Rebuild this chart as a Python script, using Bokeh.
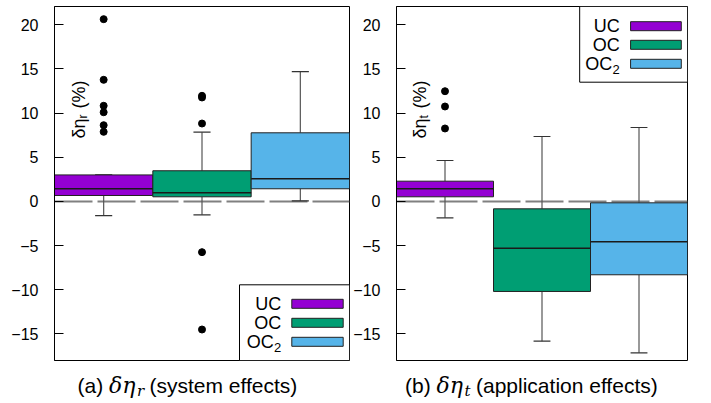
import numpy as np
from bokeh.plotting import figure
from bokeh.layouts import row, column
from bokeh.models import Span, Label, BoxAnnotation, Range1d, FixedTicker, ColumnDataSource
from bokeh.embed import file_html
from bokeh.resources import INLINE

# ---------------- data ----------------
groups = ["UC", "OC", "OC2"]
colors = ["#9400D3", "#009E73", "#56B4E9"]
pos = [1, 2, 3]
yticks = [-15, -10, -5, 0, 5, 10, 15, 20]

# (a) system effects
a_q1 = [0.67, 0.52, 1.43]
a_med = [1.43, 0.97, 2.56]
a_q3 = [3.0, 3.47, 7.77]
a_lo = [-1.6, -1.52, 0.05]
a_hi = [3.0, 7.84, 14.71]
a_out_x = [1, 1, 1, 1, 1, 1, 2, 2, 2, 2, 2]
a_out_y = [20.64, 13.77, 10.83, 10.1, 8.63, 7.88, 11.96, 11.77, 8.82, -5.75, -14.51]

# (b) application effects
b_q1 = [0.52, -10.2, -8.31]
b_med = [1.43, -5.3, -4.58]
b_q3 = [2.29, -0.84, -0.16]
b_lo = [-1.86, -15.83, -17.15]
b_hi = [4.63, 7.35, 8.37]
b_out_x = [1, 1, 1]
b_out_y = [12.48, 10.75, 8.26]

# ---------------- geometry ----------------
FRAME_W = 295.0
PXU_X = FRAME_W / 3.0
Y0_PAGE = 200.9
FRAME_TOP_PAGE = 6.0
FRAME_BOT_PAGE = 360.0
PXU_Y = 8.829
Y_END = (Y0_PAGE - FRAME_TOP_PAGE) / PXU_Y
Y_START = (Y0_PAGE - FRAME_BOT_PAGE) / PXU_Y
TOTAL_H = 400
PLOT_H = int(FRAME_BOT_PAGE) + 2
CAP_H = TOTAL_H - PLOT_H

FONT = "Liberation Sans"
SERIF = "DejaVu Serif"


def make_panel(q1, med, q3, lo, hi, out_x, out_y, border_left, border_right,
               frame_left_page, legend, sub_letter):
    width = int(border_left + FRAME_W + border_right)
    p = figure(width=width, height=PLOT_H, output_backend="svg", toolbar_location=None,
               title=None, x_range=Range1d(0.5, 3.5), y_range=Range1d(Y_START, Y_END),
               min_border_left=border_left, min_border_right=border_right,
               min_border_top=int(FRAME_TOP_PAGE), min_border_bottom=2)
    p.xaxis.visible = False
    p.xgrid.visible = False
    p.ygrid.visible = False
    p.outline_line_color = "black"
    p.outline_line_width = 1
    p.outline_line_alpha = 1
    p.background_fill_color = "white"
    p.border_fill_color = "white"
    ax = p.yaxis[0]
    ax.ticker = FixedTicker(ticks=yticks)
    ax.major_tick_in = 9
    ax.major_tick_out = 0
    ax.minor_tick_line_color = None
    ax.major_tick_line_color = "black"
    ax.axis_line_color = "black"
    ax.major_label_text_font = FONT
    ax.major_label_text_font_size = "16px"
    ax.major_label_text_color = "black"
    ax.major_label_standoff = 16

    def dx(px):
        return (px - frame_left_page) / PXU_X + 0.5

    def dy(py):
        return (Y0_PAGE - py) / PXU_Y

    # zero line
    p.add_layout(Span(location=0, dimension="width", line_color="#808080",
                      line_width=2, line_dash="38 5", level="underlay"))

    src = ColumnDataSource(dict(x=pos, q1=q1, q3=q3, med=med, lo=lo, hi=hi, c=colors,
                                xl=[v - 0.5 for v in pos], xr=[v + 0.5 for v in pos],
                                cl=[v - 0.087 for v in pos], cr=[v + 0.087 for v in pos]))
    # whiskers
    p.segment(x0="x", x1="x", y0="q3", y1="hi", source=src, line_color="#555555", line_width=1.2)
    p.segment(x0="x", x1="x", y0="lo", y1="q1", source=src, line_color="#555555", line_width=1.2)
    p.segment(x0="cl", x1="cr", y0="hi", y1="hi", source=src, line_color="#333333", line_width=1.2)
    p.segment(x0="cl", x1="cr", y0="lo", y1="lo", source=src, line_color="#333333", line_width=1.2)
    # boxes
    p.vbar(x="x", width=1.0, bottom="q1", top="q3", source=src, fill_color="c",
           line_color="#222222", line_width=1)
    p.segment(x0="xl", x1="xr", y0="med", y1="med", source=src, line_color="#1a1a1a", line_width=1.5)
    # outliers
    p.scatter(x=out_x, y=out_y, size=7, color="black")

    # legend
    (bl, bt, bb, text_r, sw_l, sw_r, rows) = legend
    p.add_layout(BoxAnnotation(left=dx(bl), right=3.5, top=dy(bt), bottom=dy(bb),
                               fill_color="white", fill_alpha=1, line_color="black",
                               line_width=1, line_alpha=1))
    for g, c, ry in zip(groups, colors, rows):
        p.add_layout(BoxAnnotation(left=dx(sw_l), right=dx(sw_r), top=dy(ry - 4.5),
                                   bottom=dy(ry + 4.5), fill_color=c, fill_alpha=1,
                                   line_color="#222222", line_width=1, line_alpha=1))
        if g == "OC2":
            p.add_layout(Label(x=dx(text_r), y=dy(ry), text="OC", x_offset=-7.5,
                               text_align="right", text_baseline="middle",
                               text_font=FONT, text_font_size="18px", text_color="black"))
            p.add_layout(Label(x=dx(text_r), y=dy(ry), text="2", y_offset=-6,
                               text_align="right", text_baseline="middle",
                               text_font=FONT, text_font_size="13px", text_color="black"))
        else:
            p.add_layout(Label(x=dx(text_r), y=dy(ry), text=g,
                               text_align="right", text_baseline="middle",
                               text_font=FONT, text_font_size="18px", text_color="black"))

    # rotated y label inside plot
    yl_x = dx(frame_left_page + 24)
    yl_y = dy(138)
    p.add_layout(Label(x=yl_x, y=yl_y, text="δη", angle=np.pi / 2, text_align="left",
                       text_baseline="middle", text_font=FONT, text_font_size="18px",
                       text_color="black"))
    p.add_layout(Label(x=yl_x, y=yl_y, text=sub_letter, angle=np.pi / 2, text_align="left",
                       y_offset=20, x_offset=4, text_baseline="middle", text_font=FONT,
                       text_font_size="12px", text_color="black"))
    p.add_layout(Label(x=yl_x, y=yl_y, text="(%)", angle=np.pi / 2, text_align="left",
                       y_offset=30, text_baseline="middle", text_font=FONT,
                       text_font_size="18px", text_color="black"))
    return p


def make_caption(width, start_x, runs):
    c = figure(width=width, height=CAP_H, output_backend="svg", toolbar_location=None,
               title=None, x_range=Range1d(0, width), y_range=Range1d(0, CAP_H),
               min_border=0)
    c.axis.visible = False
    c.grid.visible = False
    c.outline_line_color = None
    baseline = TOTAL_H - 392 + 7
    off = 0.0
    for (txt, font, style, size, yoff, w) in runs:
        c.add_layout(Label(x=start_x, y=baseline, text=txt, x_offset=off, y_offset=yoff,
                           text_align="left", text_baseline="alphabetic", text_font=font,
                           text_font_style=style, text_font_size=size, text_color="black"))
        off += w
    return c


cap_a_runs = [("(a)", FONT, "normal", "21px", 0, 31.5),
              ("δη", SERIF, "italic", "22px", 0, 28),
              ("r", SERIF, "italic", "15px", -5, 12.5),
              ("(system effects)", FONT, "normal", "21px", 0, 150)]
cap_b_runs = [("(b)", FONT, "normal", "21px", 0, 31.5),
              ("δη", SERIF, "italic", "22px", 0, 28),
              ("t", SERIF, "italic", "15px", -5, 11.5),
              ("(application effects)", FONT, "normal", "21px", 0, 185)]

leg_a = (239, 284.3, 360, 280.7, 291.3, 342.7, [303.3, 322.3, 341.3])
leg_b = (582.7, 6, 81.7, 623.3, 634.3, 685.7, [25.7, 44.3, 63.3])

p1 = make_panel(a_q1, a_med, a_q3, a_lo, a_hi, a_out_x, a_out_y, 54, 1, 54.0, leg_a, "r")
p2 = make_panel(b_q1, b_med, b_q3, b_lo, b_hi, b_out_x, b_out_y, 42, 12, 397.0, leg_b, "t")
c1 = make_caption(350, 77, cap_a_runs)
c2 = make_caption(349, 404.5 - 350, cap_b_runs)

layout = column(row(p1, p2, spacing=0), row(c1, c2, spacing=0), spacing=0)
open("out.html", "w").write(file_html(layout, INLINE))
